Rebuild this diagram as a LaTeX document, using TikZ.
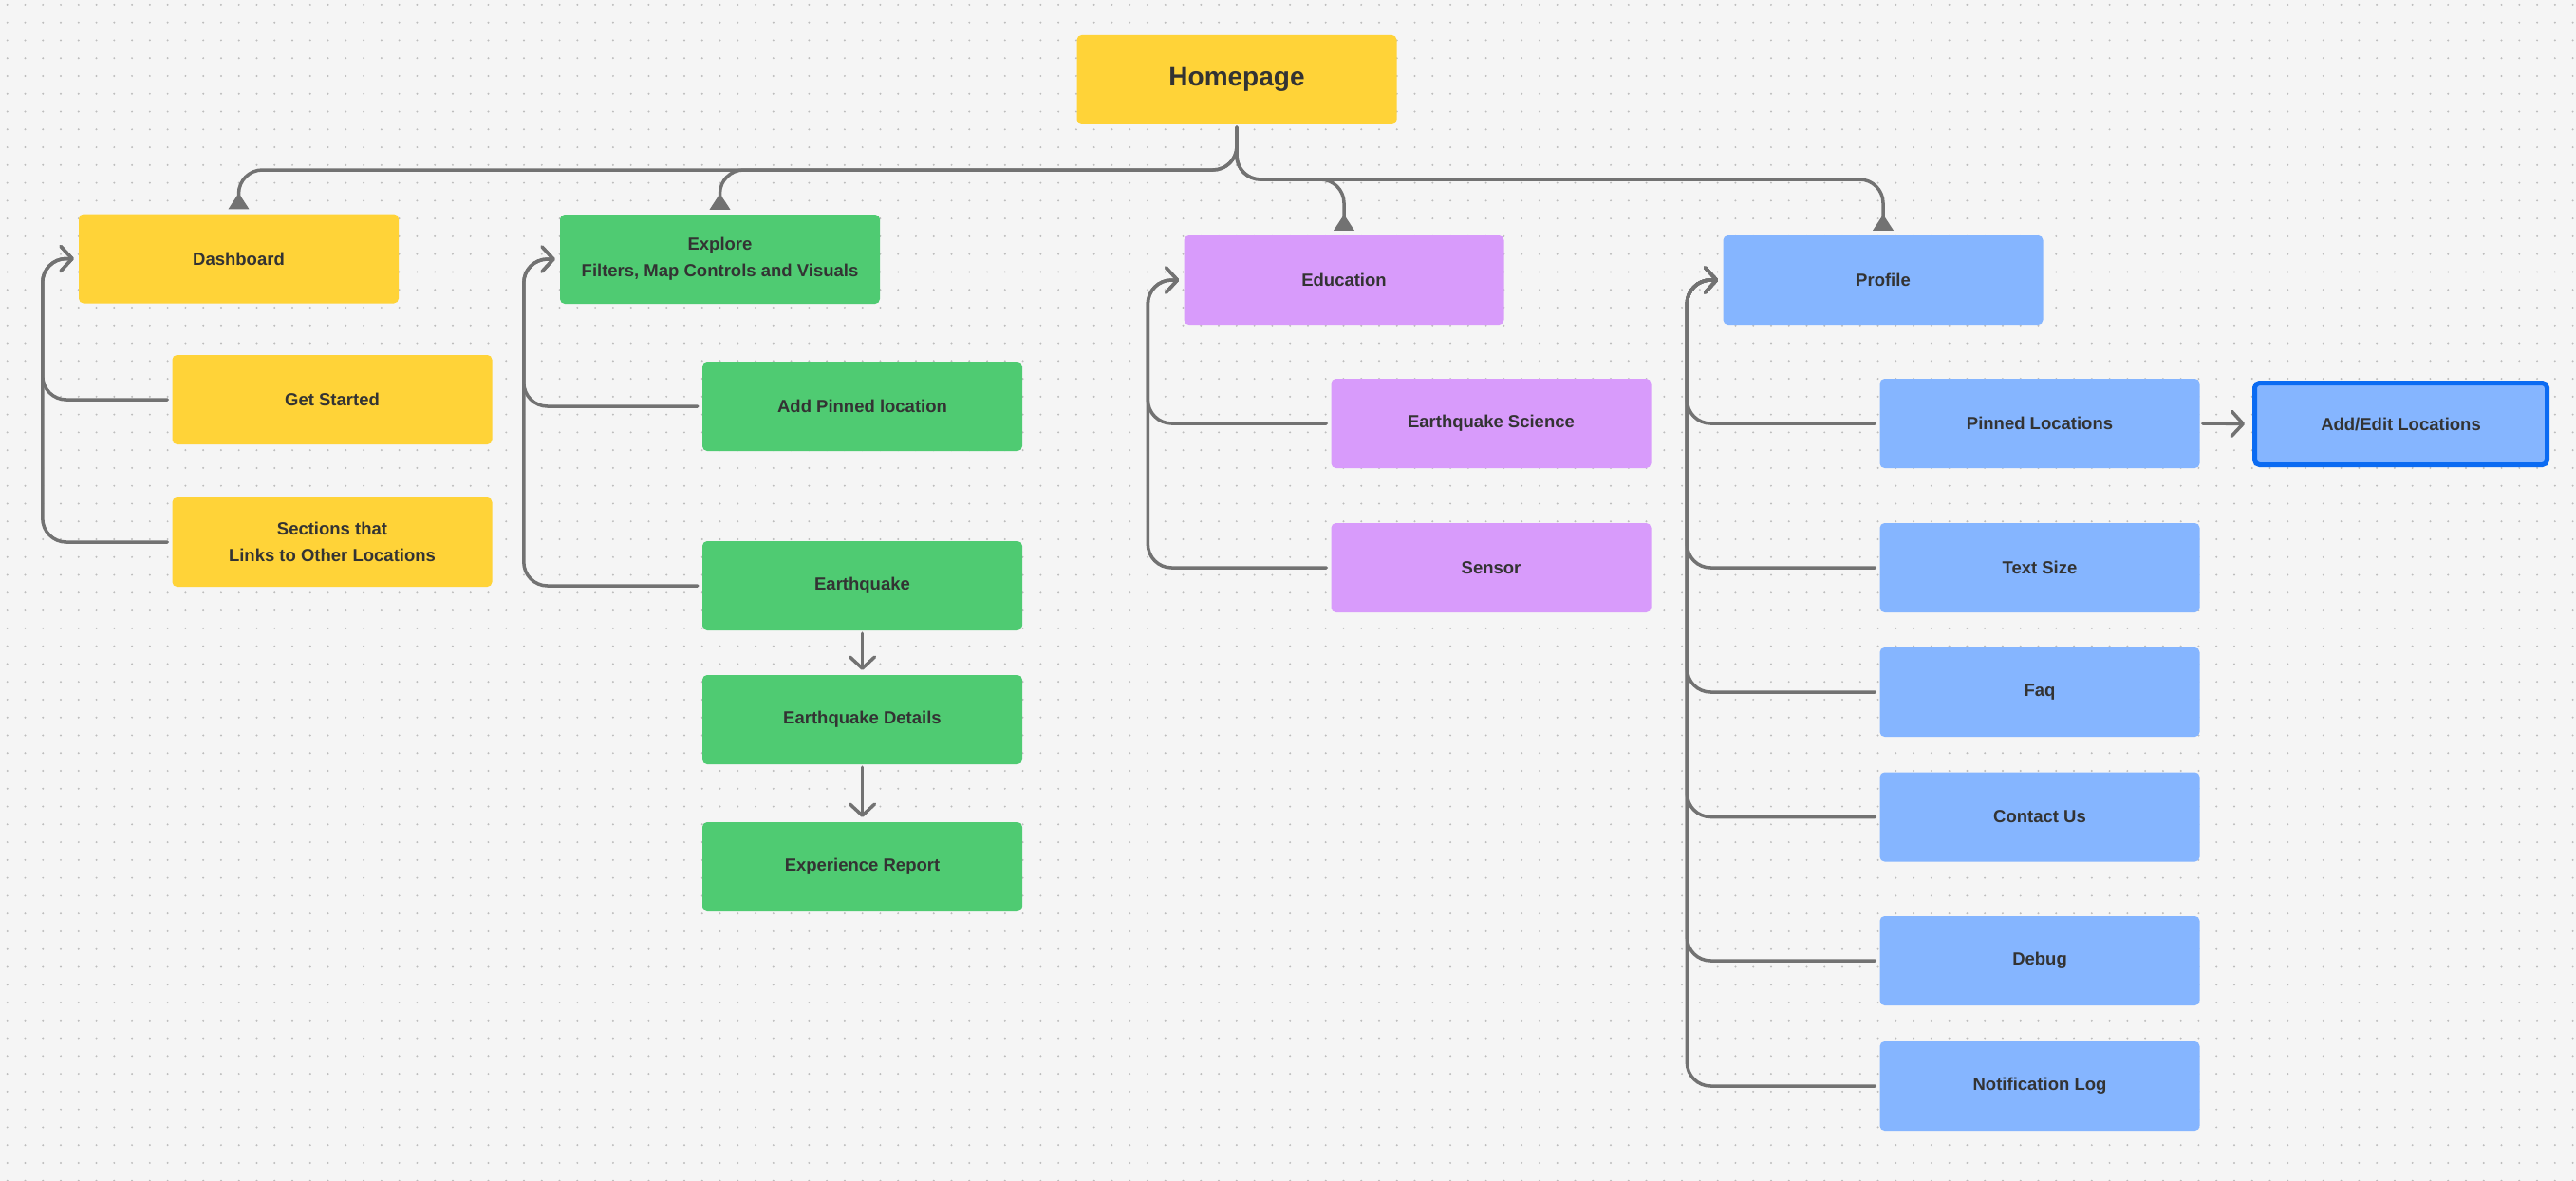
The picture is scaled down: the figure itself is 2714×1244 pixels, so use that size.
\documentclass[tikz,border=0pt]{standalone}
\usepackage{fontspec}
\setmainfont{Liberation Sans}
\usetikzlibrary{arrows.meta}
\definecolor{bg}{HTML}{F5F5F5}
\definecolor{dotc}{HTML}{BDBDBD}
\definecolor{yel}{HTML}{FFD338}
\definecolor{grn}{HTML}{4FCB72}
\definecolor{pur}{HTML}{D89BFB}
\definecolor{blu}{HTML}{85B5FF}
\definecolor{edgeblue}{HTML}{0B6BF2}
\definecolor{conc}{HTML}{727272}
\definecolor{txt}{HTML}{333333}
\begin{document}
\begin{tikzpicture}[x=1pt,y=-1pt,
  box/.style={rectangle, rounded corners=5pt, minimum width=337pt, minimum height=94pt,
    inner sep=0pt, align=center, text=txt, font=\bfseries\fontsize{18.5}{28}\selectfont},
  ybox/.style={box, fill=yel},
  gbox/.style={box, fill=grn},
  pbox/.style={box, fill=pur},
  bbox/.style={box, fill=blu},
  conn/.style={draw=conc, line width=3.5pt, rounded corners=25pt, line cap=round, line join=round},
  chev/.style={-{Straight Barb[round,length=12pt,width=26pt]}, shorten >=5pt},
  tri/.style={-{Triangle[reversed,length=17pt,width=21pt]}, shorten >=5pt}
]
\fill[bg] (0,0) rectangle (2714,1244);
\useasboundingbox (0,0) rectangle (2714,1244);
\foreach \r in {0,...,66}{
  \draw[dotc, line width=2.2pt, line cap=round, dash pattern=on 0pt off 18.77pt]
    (7.7,{4.9+\r*18.77}) -- (2714,{4.9+\r*18.77});
}
% nodes
\node[ybox, font=\bfseries\fontsize{28}{34}\selectfont] (home) at (1303,84) {Homepage};
\node[ybox] (dash) at (251.5,272.5) {Dashboard};
\node[ybox] (gs) at (350,421) {Get Started};
\node[ybox] (sec) at (350,571) {Sections that\\Links to Other Locations};
\node[gbox] (exp) at (758.5,273) {Explore\\Filters, Map Controls and Visuals};
\node[gbox] (pin) at (908.5,428) {Add Pinned location};
\node[gbox] (eq) at (908.5,617) {Earthquake};
\node[gbox] (eqd) at (908.5,758) {Earthquake Details};
\node[gbox] (exr) at (908.5,913) {Experience Report};
\node[pbox] (edu) at (1416,295) {Education};
\node[pbox] (sci) at (1571,446) {Earthquake Science};
\node[pbox] (sen) at (1571,598) {Sensor};
\node[bbox] (prof) at (1984,295) {Profile};
\node[bbox] (ploc) at (2149,446) {Pinned Locations};
\node[bbox, draw=edgeblue, line width=5pt, minimum width=308pt, minimum height=86pt] (ael) at (2529.5,446.5) {Add/Edit Locations};
\node[bbox] (ts) at (2149,598) {Text Size};
\node[bbox] (faq) at (2149,729) {Faq};
\node[bbox] (cu) at (2149,860.5) {Contact Us};
\node[bbox] (dbg) at (2149,1012) {Debug};
\node[bbox] (nl) at (2149,1144) {Notification Log};
% homepage connectors
\coordinate (jl) at (1303,179);
\coordinate (jr) at (1303,189);
\draw[conn,tri,shorten <=3pt] (home.south) -- (jl) -| (dash.north);
\draw[conn,tri,shorten <=3pt] (home.south) -- (jl) -| (exp.north);
\draw[conn,tri,shorten <=3pt] (home.south) -- (jr) -| (edu.north);
\draw[conn,tri,shorten <=3pt] (home.south) -- (jr) -| (prof.north);
% brackets
\foreach \c/\p in {gs/dash, sec/dash, pin/exp, eq/exp, sci/edu, sen/edu,
                   ploc/prof, ts/prof, faq/prof, cu/prof, dbg/prof, nl/prof}{
  \draw[conn,chev,shorten <=5pt] (\c.west) -| ([xshift=-38pt]\p.west) -- (\p.west);
}
% straight arrows
\draw[conn,chev,shorten <=3pt] (eq.south) -- (eqd.north);
\draw[conn,chev,shorten <=3pt] (eqd.south) -- (exr.north);
\draw[conn,chev,shorten <=3pt,shorten >=8pt] (ploc.east) -- (ael.west);
\end{tikzpicture}
\end{document}
